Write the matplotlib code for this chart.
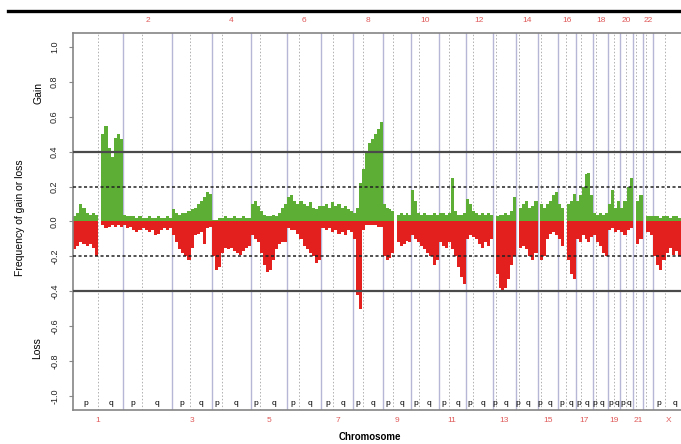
import matplotlib
matplotlib.use('Agg')
import matplotlib.pyplot as plt
import numpy as np
from matplotlib.lines import Line2D
from matplotlib.transforms import blended_transform_factory

plt.rcParams['font.family'] = ['Liberation Sans', 'DejaVu Sans']
plt.rcParams['axes.unicode_minus'] = False

# ---------------- data ----------------
chrom_names = ['1', '2', '3', '4', '5', '6', '7', '8', '9', '10', '11', '12',
               '13', '14', '15', '16', '17', '18', '19', '20', '21', '22', 'X']
chrom_lengths = [249.3, 243.2, 198.0, 191.2, 180.9, 171.1, 159.1, 146.4, 141.2,
                 135.5, 135.0, 133.9, 115.2, 107.4, 102.5, 90.4, 81.2, 78.1,
                 59.1, 63.0, 48.1, 51.3, 155.3]
centromeres = [125.0, 93.3, 91.0, 50.4, 48.4, 61.0, 59.9, 45.6, 49.0, 40.2, 53.7,
               35.8, 17.9, 17.6, 19.0, 36.6, 24.0, 17.2, 26.5, 27.5, 13.2, 14.7, 60.6]
pq_labelled = [True] * 20 + [False, False, True]

gain_freq = [
    [0.03, 0.05, 0.10, 0.08, 0.05, 0.04, 0.05, 0.04, 0.0, 0.50, 0.55, 0.42, 0.37, 0.48, 0.50, 0.47],
    [0.04, 0.03, 0.03, 0.03, 0.02, 0.03, 0.02, 0.02, 0.03, 0.02, 0.02, 0.03, 0.02, 0.02, 0.03, 0.02],
    [0.07, 0.05, 0.04, 0.05, 0.05, 0.06, 0.07, 0.08, 0.10, 0.12, 0.14, 0.17, 0.16],
    [0.01, 0.01, 0.02, 0.02, 0.03, 0.02, 0.02, 0.03, 0.02, 0.02, 0.03, 0.02, 0.02],
    [0.10, 0.12, 0.09, 0.06, 0.04, 0.03, 0.03, 0.04, 0.03, 0.05, 0.08, 0.10],
    [0.14, 0.15, 0.12, 0.10, 0.12, 0.10, 0.09, 0.11, 0.08, 0.07, 0.09],
    [0.09, 0.10, 0.08, 0.11, 0.09, 0.10, 0.08, 0.09, 0.07, 0.06],
    [0.05, 0.08, 0.22, 0.30, 0.40, 0.45, 0.47, 0.50, 0.53, 0.57],
    [0.10, 0.08, 0.07, 0.06, 0.0, 0.04, 0.05, 0.04, 0.05, 0.04],
    [0.18, 0.12, 0.05, 0.04, 0.05, 0.04, 0.04, 0.05, 0.04],
    [0.05, 0.05, 0.04, 0.05, 0.25, 0.06, 0.04, 0.04, 0.05],
    [0.13, 0.10, 0.06, 0.05, 0.04, 0.05, 0.04, 0.05, 0.04],
    [0.0, 0.03, 0.04, 0.04, 0.05, 0.04, 0.06, 0.14],
    [0.0, 0.08, 0.10, 0.12, 0.08, 0.09, 0.12],
    [0.0, 0.10, 0.08, 0.10, 0.12, 0.15, 0.17],
    [0.10, 0.08, 0.0, 0.10, 0.12, 0.16],
    [0.12, 0.15, 0.20, 0.27, 0.28, 0.15],
    [0.05, 0.04, 0.05, 0.04, 0.05],
    [0.10, 0.18, 0.08, 0.12],
    [0.08, 0.12, 0.20, 0.25],
    [0.0, 0.12, 0.15],
    [0.0, 0.03, 0.03],
    [0.03, 0.03, 0.02, 0.03, 0.03, 0.02, 0.03, 0.03, 0.02, 0.03],
]
loss_freq = [
    [-0.16, -0.14, -0.12, -0.13, -0.14, -0.13, -0.15, -0.20, 0.0, -0.02, -0.04, -0.03, -0.02, -0.03, -0.02, -0.03],
    [-0.02, -0.04, -0.03, -0.05, -0.06, -0.05, -0.04, -0.05, -0.06, -0.05, -0.08, -0.07, -0.05, -0.04, -0.05, -0.04],
    [-0.08, -0.12, -0.16, -0.18, -0.20, -0.22, -0.15, -0.08, -0.07, -0.06, -0.13, -0.04, -0.03],
    [-0.20, -0.28, -0.26, -0.18, -0.15, -0.16, -0.15, -0.17, -0.18, -0.19, -0.17, -0.15, -0.14],
    [-0.08, -0.10, -0.12, -0.18, -0.25, -0.29, -0.28, -0.22, -0.16, -0.13, -0.12, -0.12],
    [-0.04, -0.05, -0.05, -0.07, -0.10, -0.14, -0.16, -0.18, -0.20, -0.24, -0.22],
    [-0.04, -0.05, -0.04, -0.06, -0.05, -0.07, -0.06, -0.08, -0.05, -0.06],
    [-0.10, -0.42, -0.50, -0.05, -0.02, -0.02, -0.02, -0.02, -0.03, -0.03],
    [-0.20, -0.22, -0.21, -0.18, 0.0, -0.12, -0.14, -0.13, -0.11, -0.12],
    [-0.08, -0.10, -0.12, -0.14, -0.16, -0.18, -0.20, -0.25, -0.22],
    [-0.12, -0.14, -0.15, -0.12, -0.16, -0.20, -0.26, -0.32, -0.36],
    [-0.10, -0.08, -0.09, -0.10, -0.13, -0.15, -0.12, -0.14, -0.10],
    [0.0, -0.30, -0.38, -0.40, -0.38, -0.33, -0.25, -0.20],
    [0.0, -0.15, -0.14, -0.16, -0.20, -0.22, -0.18],
    [0.0, -0.22, -0.20, -0.10, -0.07, -0.06, -0.08],
    [-0.10, -0.14, 0.0, -0.22, -0.30, -0.33],
    [-0.10, -0.12, -0.08, -0.10, -0.12, -0.09],
    [-0.08, -0.12, -0.14, -0.18, -0.20],
    [-0.05, -0.04, -0.06, -0.05],
    [-0.06, -0.08, -0.05, -0.04],
    [0.0, -0.13, -0.10],
    [0.0, -0.06, -0.08],
    [-0.20, -0.25, -0.28, -0.22, -0.18, -0.15, -0.19, -0.17, -0.20, -0.15],
]
y_ticks = [1.0, 0.8, 0.6, 0.4, 0.2, 0.0, -0.2, -0.4, -0.6, -0.8, -1.0]
solid_levels = [0.4, -0.4]
dotted_levels = [0.2, -0.2]

GREEN = '#5cae34'
RED = '#e3201e'
LABEL_RED = '#e05a5a'

# ---------------- figure ----------------
W, H = 681, 444
fig = plt.figure(figsize=(W / 100, H / 100), dpi=100)
ax = fig.add_axes([73 / W, 34 / H, 612 / W, 377 / H])
ax.set_xlim(0, 3040)
ax.set_ylim(-1.08, 1.08)

starts = np.concatenate([[0], np.cumsum(chrom_lengths)[:-1]])
trans_bottom = blended_transform_factory(ax.transData, ax.transAxes)

for i, name in enumerate(chrom_names):
    s = starts[i]
    L = chrom_lengths[i]
    e = s + L
    c = s + centromeres[i]
    if i < len(chrom_names) - 1:
        ax.axvline(e, color='#b6b6d6', lw=1.0, zorder=1)
    ax.axvline(c, color='#b0b0b0', lw=0.7, ls=(0, (1.5, 2)), zorder=1)
    g = gain_freq[i]
    lo = loss_freq[i]
    edges = np.linspace(s, e, len(g) + 1)
    ax.stairs(g, edges, baseline=0, fill=True, color=GREEN, lw=0, zorder=2)
    edges_l = np.linspace(s, e, len(lo) + 1)
    ax.stairs(lo, edges_l, baseline=0, fill=True, color=RED, lw=0, zorder=2)
    if pq_labelled[i]:
        ax.text(s + centromeres[i] / 2, -1.045, 'p', ha='center', va='center',
                fontsize=6, zorder=4)
        ax.text((c + e) / 2, -1.045, 'q', ha='center', va='center',
                fontsize=6, zorder=4)
    mid = (s + e) / 2
    if i % 2 == 0:
        ax.text(mid, -0.027, name, transform=trans_bottom, ha='center',
                va='center', fontsize=6, color=LABEL_RED)
    else:
        ax.text(mid, 1.034, name, transform=trans_bottom, ha='center',
                va='center', fontsize=6, color=LABEL_RED)

for lv in solid_levels:
    ax.axhline(lv, color='#4a4a4a', lw=1.6, zorder=3)
for lv in dotted_levels:
    ax.axhline(lv, color='#222222', lw=1.1, ls=(0, (2, 1.6)), zorder=3)

ax.set_xticks([])
ax.set_yticks(y_ticks)
ax.set_yticklabels(['%.1f' % v for v in y_ticks])
for t in ax.get_yticklabels():
    t.set_rotation(90)
    t.set_va('center')
ax.tick_params(axis='y', length=3, width=0.8, color='#888888', labelsize=6.5,
               pad=7, labelcolor='#222222')
for sp in ['left', 'top', 'bottom']:
    ax.spines[sp].set_color('#858585')
    ax.spines[sp].set_linewidth(1.2)
ax.spines['right'].set_visible(False)

fig.text(20 / W, 1 - 218 / H, 'Frequency of gain or loss', rotation=90,
         ha='center', va='center', fontsize=7.5)
fig.text(39 / W, 1 - 93 / H, 'Gain', rotation=90, ha='center', va='center',
         fontsize=7.5)
fig.text(37 / W, 1 - 348 / H, 'Loss', rotation=90, ha='center', va='center',
         fontsize=7.5)
fig.text(370 / W, 1 - 437 / H, 'Chromosome', ha='center', va='center',
         fontsize=7, fontweight='bold')

fig.add_artist(Line2D([8 / W, 1.0], [1 - 11 / H, 1 - 11 / H], color='black',
                      lw=2.4, transform=fig.transFigure))

fig.savefig('out.png', dpi=100)
